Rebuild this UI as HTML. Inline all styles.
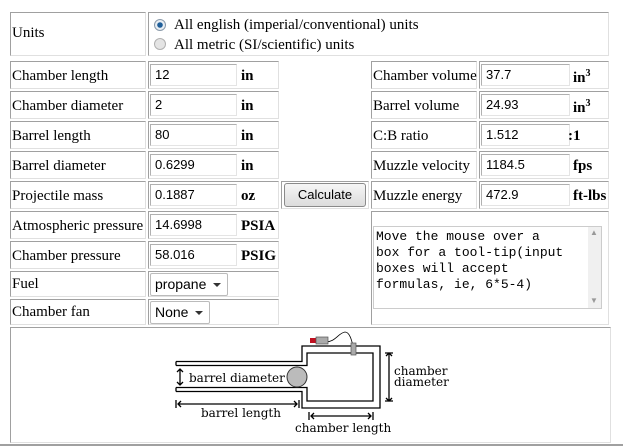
<!DOCTYPE html>
<html><head><meta charset="utf-8"><style>
body{margin:0;width:623px;height:447px;background:#fff;position:relative;overflow:hidden;font-family:"Liberation Serif",serif;font-size:15px;color:#000}
.c{position:absolute;border:1px solid;border-color:#a0a0a0 #e0e0e0 #e0e0e0 #a0a0a0;box-sizing:border-box}
.t{position:absolute;white-space:nowrap;margin-top:2px}
.i{position:absolute;border:1px solid;border-color:#b0b0b0 #e4e4e4 #e4e4e4 #b0b0b0;box-sizing:border-box;font-family:"Liberation Sans",sans-serif;font-size:13px;padding:2px 0 0 4px;height:22px;background:#fff}
.u{position:absolute;font-weight:bold;font-size:15px;margin-top:1px}
.sel{position:absolute;border:1px solid #bbb;border-radius:2px;box-sizing:border-box;font-family:"Liberation Sans",sans-serif;font-size:14px;padding:2px 0 0 4px;height:23px;background:#fff}
.sel:after{content:"";position:absolute;right:6px;top:9px;border-left:4px solid transparent;border-right:4px solid transparent;border-top:4px solid #333}
</style></head><body>
<div class="c" style="left:10px;top:12px;width:136px;height:44px"></div>
<div class="t" style="left:12px;top:23px">Units</div>
<div class="c" style="left:148px;top:12px;width:461px;height:44px"></div>
<svg style="position:absolute;left:152px;top:17px" width="16" height="36"><circle cx="8" cy="8" r="5.5" fill="#e8eef4" stroke="#8a9aaa"/><circle cx="8" cy="8" r="2.8" fill="#1f5f9a"/><circle cx="8" cy="27" r="5.5" fill="#e4e4e4" stroke="#b0b0b0"/></svg>
<div class="t" style="left:174px;top:15px">All english (imperial/conventional) units</div>
<div class="t" style="left:174px;top:35px">All metric (SI/scientific) units</div>

<!-- left rows -->
<div class="c" style="left:10px;top:61px;width:136px;height:28px"></div><div class="t" style="left:12px;top:66px">Chamber length</div>
<div class="c" style="left:148px;top:61px;width:131px;height:28px"></div><div class="i" style="left:150px;top:64px;width:87px">12</div><div class="u" style="left:241px;top:67px">in</div>
<div class="c" style="left:10px;top:91px;width:136px;height:28px"></div><div class="t" style="left:12px;top:96px">Chamber diameter</div>
<div class="c" style="left:148px;top:91px;width:131px;height:28px"></div><div class="i" style="left:150px;top:94px;width:87px">2</div><div class="u" style="left:241px;top:97px">in</div>
<div class="c" style="left:10px;top:121px;width:136px;height:28px"></div><div class="t" style="left:12px;top:126px">Barrel length</div>
<div class="c" style="left:148px;top:121px;width:131px;height:28px"></div><div class="i" style="left:150px;top:124px;width:87px">80</div><div class="u" style="left:241px;top:127px">in</div>
<div class="c" style="left:10px;top:151px;width:136px;height:28px"></div><div class="t" style="left:12px;top:156px">Barrel diameter</div>
<div class="c" style="left:148px;top:151px;width:131px;height:28px"></div><div class="i" style="left:150px;top:154px;width:87px">0.6299</div><div class="u" style="left:241px;top:157px">in</div>
<div class="c" style="left:10px;top:181px;width:136px;height:28px"></div><div class="t" style="left:12px;top:186px">Projectile mass</div>
<div class="c" style="left:148px;top:181px;width:131px;height:28px"></div><div class="i" style="left:150px;top:184px;width:87px">0.1887</div><div class="u" style="left:241px;top:187px">oz</div>
<div class="c" style="left:281px;top:181px;width:88px;height:28px"></div>
<div style="position:absolute;left:284px;top:183px;width:82px;height:24px;box-sizing:border-box;border:1px solid #8a8a8a;border-radius:3px;background:linear-gradient(#f6f6f6,#dcdcdc);font-family:'Liberation Sans',sans-serif;font-size:13px;text-align:center;line-height:22px">Calculate</div>
<div class="c" style="left:10px;top:211px;width:136px;height:28px"></div><div class="t" style="left:12px;top:216px">Atmospheric pressure</div>
<div class="c" style="left:148px;top:211px;width:131px;height:28px"></div><div class="i" style="left:150px;top:214px;width:87px">14.6998</div><div class="u" style="left:241px;top:217px">PSIA</div>
<div class="c" style="left:10px;top:241px;width:136px;height:28px"></div><div class="t" style="left:12px;top:246px">Chamber pressure</div>
<div class="c" style="left:148px;top:241px;width:131px;height:28px"></div><div class="i" style="left:150px;top:244px;width:87px">58.016</div><div class="u" style="left:241px;top:247px">PSIG</div>
<div class="c" style="left:10px;top:271px;width:136px;height:26px"></div><div class="t" style="left:12px;top:274px">Fuel</div>
<div class="c" style="left:148px;top:271px;width:131px;height:26px"></div><div class="sel" style="left:150px;top:273px;width:78px">propane</div>
<div class="c" style="left:10px;top:299px;width:136px;height:26px"></div><div class="t" style="left:12px;top:302px">Chamber fan</div>
<div class="c" style="left:148px;top:299px;width:131px;height:26px"></div><div class="sel" style="left:150px;top:301px;width:60px">None</div>

<!-- right rows -->
<div class="c" style="left:371px;top:61px;width:106px;height:28px"></div><div class="t" style="left:373px;top:66px">Chamber volume</div>
<div class="c" style="left:479px;top:61px;width:130px;height:28px"></div><div class="i" style="left:481px;top:64px;width:89px">37.7</div><div class="u" style="left:573px;top:67px">in<sup style="font-size:10px">3</sup></div>
<div class="c" style="left:371px;top:91px;width:106px;height:28px"></div><div class="t" style="left:373px;top:96px">Barrel volume</div>
<div class="c" style="left:479px;top:91px;width:130px;height:28px"></div><div class="i" style="left:481px;top:94px;width:89px">24.93</div><div class="u" style="left:573px;top:97px">in<sup style="font-size:10px">3</sup></div>
<div class="c" style="left:371px;top:121px;width:106px;height:28px"></div><div class="t" style="left:373px;top:126px">C:B ratio</div>
<div class="c" style="left:479px;top:121px;width:130px;height:28px"></div><div class="i" style="left:481px;top:124px;width:89px">1.512</div><div class="u" style="left:568px;top:127px">:1</div>
<div class="c" style="left:371px;top:151px;width:106px;height:28px"></div><div class="t" style="left:373px;top:156px">Muzzle velocity</div>
<div class="c" style="left:479px;top:151px;width:130px;height:28px"></div><div class="i" style="left:481px;top:154px;width:89px">1184.5</div><div class="u" style="left:573px;top:157px">fps</div>
<div class="c" style="left:371px;top:181px;width:106px;height:28px"></div><div class="t" style="left:373px;top:186px">Muzzle energy</div>
<div class="c" style="left:479px;top:181px;width:130px;height:28px"></div><div class="i" style="left:481px;top:184px;width:89px">472.9</div><div class="u" style="left:573px;top:187px">ft-lbs</div>
<div class="c" style="left:371px;top:211px;width:238px;height:114px"></div>
<div style="position:absolute;left:373px;top:226px;width:229px;height:83px;box-sizing:border-box;border:1px solid #ccc;background:#fff"></div>
<div style="position:absolute;left:588px;top:227px;width:13px;height:81px;background:#f0f0f0"></div>
<div class="t" style="left:590px;top:226px;font-size:8px;color:#999">▲</div>
<div class="t" style="left:590px;top:294px;font-size:8px;color:#999">▼</div>
<div style="position:absolute;left:376px;top:229px;font-family:'Liberation Mono',monospace;font-size:13px;line-height:16px;white-space:pre">Move the mouse over a
box for a tool-tip(input
boxes will accept
formulas, ie, 6*5-4)</div>

<!-- diagram -->
<div class="c" style="left:10px;top:327px;width:601px;height:116px"></div>
<div style="position:absolute;left:0;top:444px;width:623px;height:2px;background:#a0a0a0"></div>
<svg style="position:absolute;left:0;top:0" width="623" height="447" font-family="'DejaVu Serif','Liberation Serif',serif" font-size="12">
<g fill="none" stroke="#000" stroke-width="1.3">
<path d="M176 361.5H302V346H380V408H302V391.5H176"/>
<path d="M176 365.5H307V353H373V401H307V387.5H176"/>
<path d="M176 361.5V365.5M176 387.5V391.5"/>
<path d="M180 369V385M177 372L180 369L183 372M177 382L180 385L183 382"/>
<path d="M389 353V401M386 356L389 353L392 356M386 398L389 401L392 398M385 353H393M385 401H393"/>
<path d="M176 400V408M299 400V408M178 404H297M181 401L178 404L181 407M294 401L297 404L294 407"/>
<path d="M309 412V420M373 412V420M311 416H371M314 413L311 416L314 419M368 413L371 416L368 419"/>
<path d="M324 342C335 343 338 333 345 332C350 332 352 342 353 346" stroke-width="0.8"/>
</g>
<circle cx="297" cy="377" r="10" fill="#bbb" stroke="#333"/>
<rect x="310" y="338" width="6" height="5" fill="#c01020"/>
<rect x="316" y="337" width="12" height="7" fill="#aaa" stroke="#555" stroke-width="0.7"/>
<rect x="351" y="343" width="5" height="12" fill="#aaa" stroke="#555" stroke-width="0.7"/>
<text x="189" y="382">barrel diameter</text>
<text x="201" y="417">barrel length</text>
<text x="295" y="432">chamber length</text>
<text x="394" y="375">chamber</text>
<text x="394" y="386">diameter</text>
</svg>
</body></html>
